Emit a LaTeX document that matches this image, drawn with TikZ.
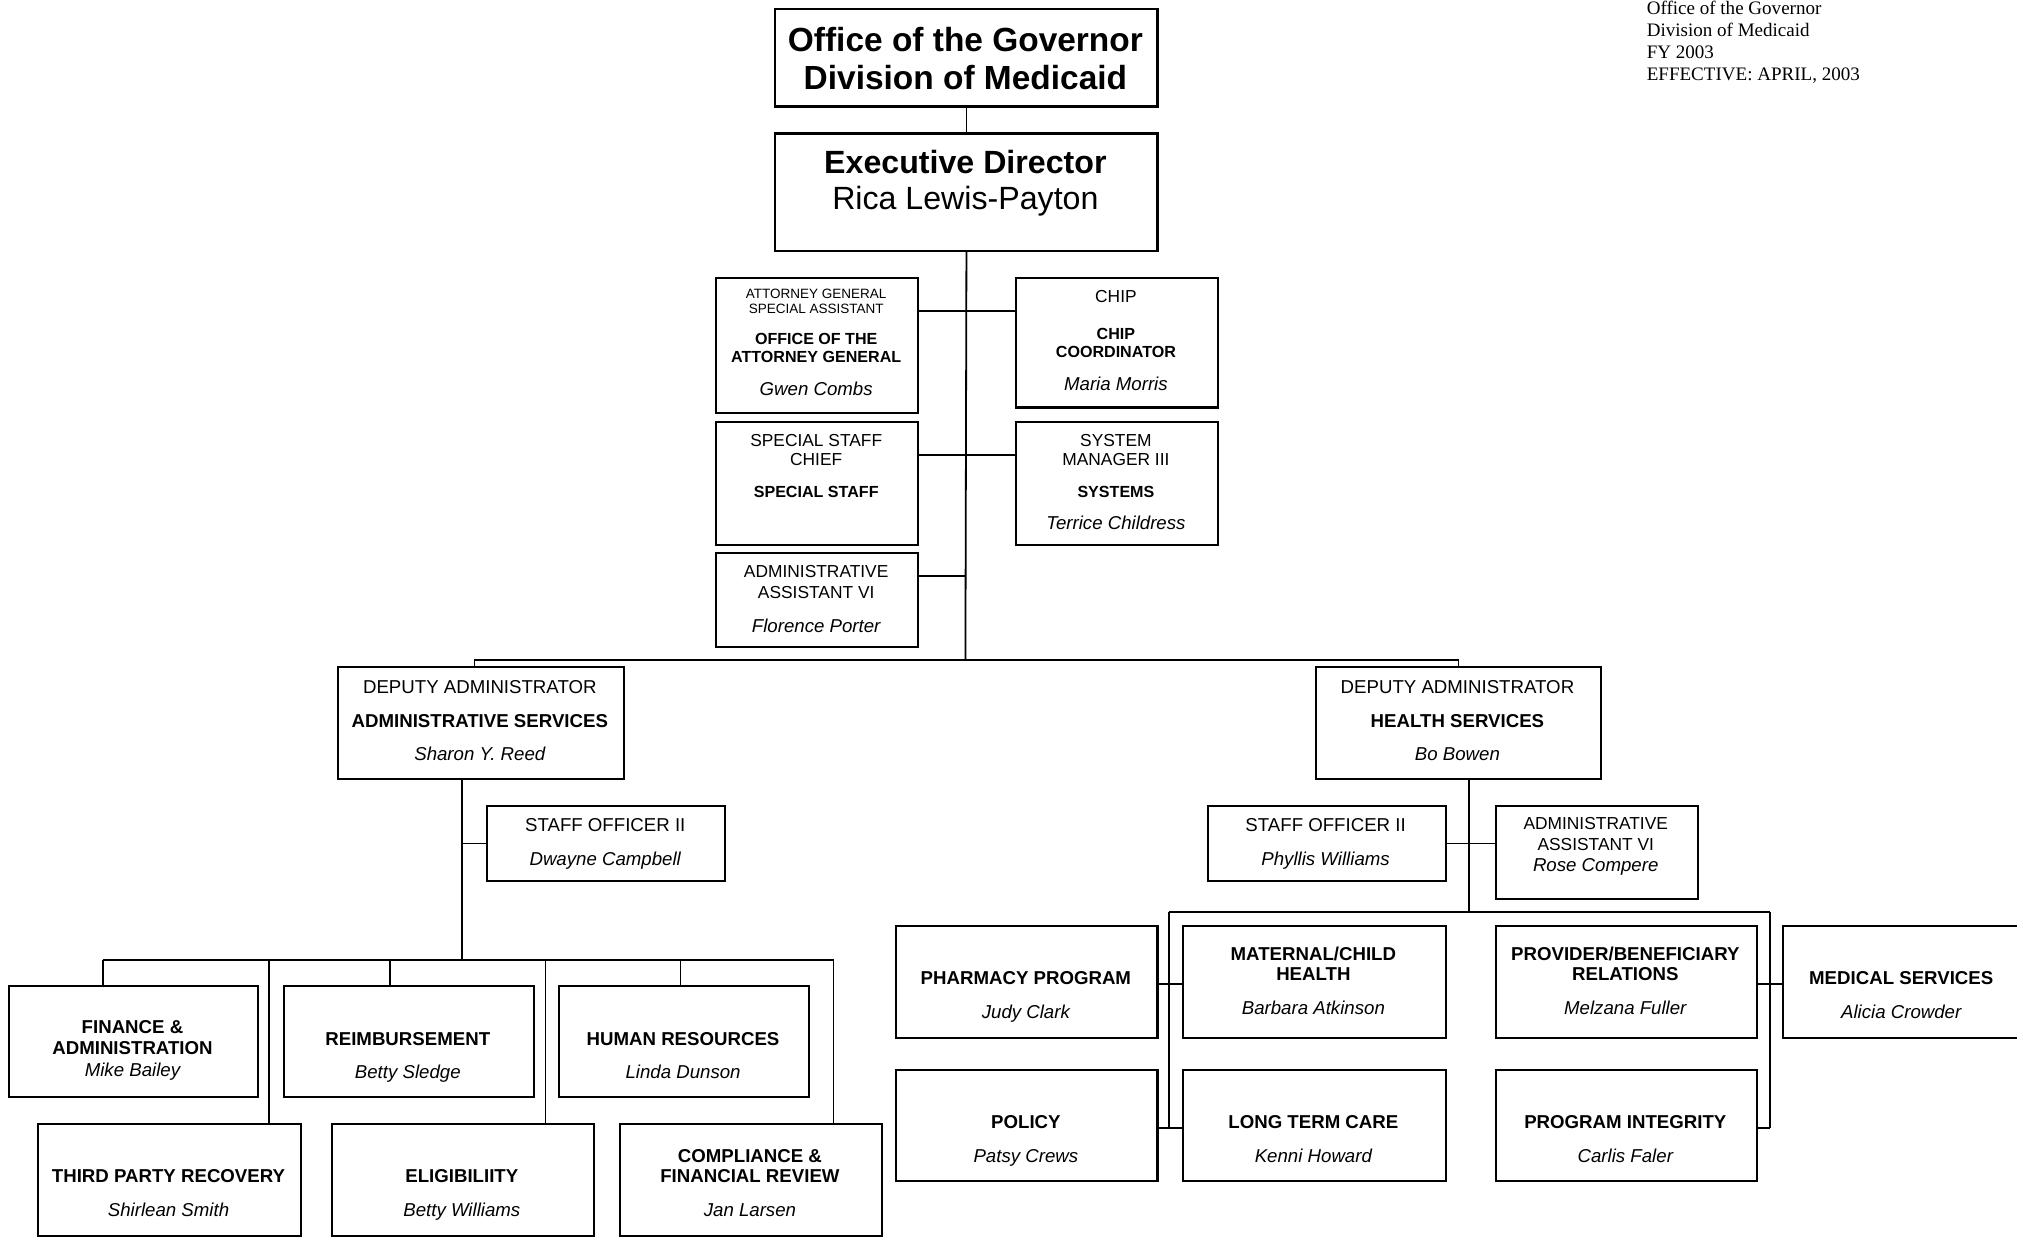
\documentclass[tikz,border=0pt]{standalone}
\usepackage{fontspec}
\setmainfont{Liberation Sans}
\newfontfamily\notefont{Liberation Serif}
\begin{document}
\begin{tikzpicture}[x=1pt,y=-1pt,
  box/.style={draw, line width=1.6pt, anchor=north west, inner sep=0pt, fill=white},
  conn/.style={line width=1.4pt},
  t/.style={inner sep=0pt, text height=11pt, text depth=0pt, font=\fontsize{14.5}{17}\selectfont},
  tb/.style={t, font=\fontsize{14.5}{17}\selectfont\bfseries},
  ti/.style={t, font=\fontsize{14.5}{17}\selectfont\itshape},
  ts/.style={t, text height=10.3pt, font=\fontsize{13.5}{16}\selectfont},
  tsb/.style={t, text height=9.5pt, font=\fontsize{12.5}{15}\selectfont\bfseries},
  tx/.style={t, text height=8pt, font=\fontsize{10.5}{12}\selectfont},
  big/.style={t, text height=19.8pt, font=\fontsize{26}{30}\selectfont\bfseries},
  bigb/.style={t, text height=19pt, font=\fontsize{25}{29}\selectfont\bfseries},
  bigr/.style={t, text height=19pt, font=\fontsize{25}{29}\selectfont},
  note/.style={inner sep=0pt, anchor=west, text height=11pt, text depth=0pt, font=\fontsize{14.8}{17}\selectfont\notefont}]
\path[use as bounding box, clip] (0,0) rectangle (1568,965);
\fill[white] (0,0) rectangle (1568,965);

% ---------- boxes ----------
\node[box, minimum width=297, minimum height=76] (gov) at (602,6) {};
\node[box, minimum width=297, minimum height=91] (exec) at (602,103) {};
\node[box, minimum width=157, minimum height=105] (ag) at (556,215) {};
\node[box, minimum width=157, minimum height=101] (chip) at (789,215) {};
\node[box, minimum width=157, minimum height=96] (ss) at (556,327) {};
\node[box, minimum width=157, minimum height=96] (sys) at (789,327) {};
\node[box, minimum width=157, minimum height=73] (aa) at (556,429) {};
\node[box, minimum width=222, minimum height=87] (da1) at (262,518) {};
\node[box, minimum width=222, minimum height=87] (da2) at (1022,518) {};
\node[box, minimum width=185, minimum height=58] (so1) at (378,626) {};
\node[box, minimum width=185, minimum height=58] (so2) at (938,626) {};
\node[box, minimum width=157, minimum height=72] (aa2) at (1162,626) {};
\node[box, minimum width=194, minimum height=86] (fin) at (6,766) {};
\node[box, minimum width=194, minimum height=86] (reimb) at (220,766) {};
\node[box, minimum width=194, minimum height=86] (hr) at (434,766) {};
\node[box, minimum width=204, minimum height=87] (tpr) at (29,873) {};
\node[box, minimum width=204, minimum height=87] (elig) at (257,873) {};
\node[box, minimum width=204, minimum height=87] (comp) at (481,873) {};
\node[box, minimum width=203, minimum height=87] (pharm) at (696,719) {};
\node[box, minimum width=204, minimum height=87] (mat) at (919,719) {};
\node[box, minimum width=203, minimum height=87] (prov) at (1162,719) {};
\node[box, minimum width=190, minimum height=87] (med) at (1385,719) {};
\node[box, minimum width=203, minimum height=86] (policy) at (696,831) {};
\node[box, minimum width=204, minimum height=86] (ltc) at (919,831) {};
\node[box, minimum width=203, minimum height=86] (pi) at (1162,831) {};

% ---------- connectors: top ----------
\coordinate (tb) at (750.5,513);
\draw[conn] (gov) -- (exec);
\draw[conn] (exec.south) -- (tb);
\draw[conn] (ag.east |- 0,242) -- (chip.west |- 0,242);
\draw[conn] (ss.east |- 0,354) -- (sys.west |- 0,354);
\draw[conn] (aa.east |- 0,448) -- (exec.south |- 0,448);
\draw[conn] ([xshift=-5pt]da1.north) -- ++(0,-5) -| (da2.north);

% ---------- connectors: left ----------
\coordinate (lb) at (359,746);
\coordinate (dfin) at (80,746);
\coordinate (dreimb) at (303,746);
\coordinate (dhr) at (529,746);
\coordinate (dtpr) at (209,746);
\coordinate (delig) at (424,746);
\coordinate (dcomp) at (648,746);
\draw[conn] (da1.south -| lb) -- (lb);
\draw[conn] (so1.west -| lb) -- (so1.west);
\draw[conn] (dfin) -- (dcomp);
\draw[conn] (dfin) -- (dfin |- fin.north);
\draw[conn] (dreimb) -- (dreimb |- reimb.north);
\draw[conn] (dhr) -- (dhr |- hr.north);
\draw[conn] (dtpr) -- (dtpr |- tpr.north);
\draw[conn] (delig) -- (delig |- elig.north);
\draw[conn] (dcomp) -- (dcomp |- comp.north);

% ---------- connectors: right ----------
\coordinate (rb) at (1142,709);
\coordinate (rbl) at (909,709);
\coordinate (rbr) at (1376,709);
\draw[conn] (da2.south -| rb) -- (rb);
\draw[conn] (so2.east) -- (so2.east -| aa2.west);
\draw[conn] (rbl) -- (rbr);
\draw[conn] (rbl) -- (rbl |- 0,877);
\draw[conn] (rbr) -- (rbr |- 0,877);
\draw[conn] (pharm.east |- 0,765) -- (mat.west |- 0,765);
\draw[conn] (policy.east |- 0,877) -- (ltc.west |- 0,877);
\draw[conn] (prov.east |- 0,765) -- (med.west |- 0,765);
\draw[conn] (pi.east |- 0,877) -- (rbr |- 0,877);

% ---------- texts ----------
\node[big] (gov-1) at (750.5,30) {Office of the Governor};
\node[big] (gov-2) at (750.5,60) {Division of Medicaid};
\node[bigb] (exec-1) at (750.5,125) {Executive Director};
\node[bigr] (exec-2) at (750.5,153) {Rica Lewis-Payton};

\node[tx] (ag-1) at (634.5,228) {ATTORNEY GENERAL};
\node[tx] (ag-2) at (634.5,240) {SPECIAL ASSISTANT};
\node[tsb] (ag-3) at (634.5,263) {OFFICE OF THE};
\node[tsb] (ag-4) at (634.5,277) {ATTORNEY GENERAL};
\node[ti] (ag-5) at (634.5,302) {Gwen Combs};

\node[ts] (chip-1) at (867.5,230) {CHIP};
\node[tsb] (chip-2) at (867.5,259) {CHIP};
\node[tsb] (chip-3) at (867.5,273) {COORDINATOR};
\node[ti] (chip-4) at (867.5,298) {Maria Morris};

\node[ts] (ss-1) at (634.5,342) {SPECIAL STAFF};
\node[ts] (ss-2) at (634.5,357) {CHIEF};
\node[tsb] (ss-3) at (634.5,382) {SPECIAL STAFF};

\node[ts] (sys-1) at (867.5,342) {SYSTEM};
\node[ts] (sys-2) at (867.5,357) {MANAGER III};
\node[tsb] (sys-3) at (867.5,382) {SYSTEMS};
\node[ti] (sys-4) at (867.5,406) {Terrice Childress};

\node[ts] (aa-1) at (634.5,444) {ADMINISTRATIVE};
\node[ts] (aa-2) at (634.5,460) {ASSISTANT VI};
\node[ti] (aa-3) at (634.5,486) {Florence Porter};

\node[t] (da1-1) at (373,534) {DEPUTY ADMINISTRATOR};
\node[tb] (da1-2) at (373,560) {ADMINISTRATIVE SERVICES};
\node[ti] (da1-3) at (373,586) {Sharon Y. Reed};

\node[t] (da2-1) at (1133,534) {DEPUTY ADMINISTRATOR};
\node[tb] (da2-2) at (1133,560) {HEALTH SERVICES};
\node[ti] (da2-3) at (1133,586) {Bo Bowen};

\node[t] (so1-1) at (470.5,641) {STAFF OFFICER II};
\node[ti] (so1-2) at (470.5,667) {Dwayne Campbell};
\node[t] (so2-1) at (1030.5,641) {STAFF OFFICER II};
\node[ti] (so2-2) at (1030.5,667) {Phyllis Williams};

\node[ts] (aa2-1) at (1240.5,640) {ADMINISTRATIVE};
\node[ts] (aa2-2) at (1240.5,656) {ASSISTANT VI};
\node[ti] (aa2-3) at (1240.5,672) {Rose Compere};

\node[tb] (fin-1) at (103,798) {FINANCE \&};
\node[tb] (fin-2) at (103,814) {ADMINISTRATION};
\node[ti] (fin-3) at (103,831) {Mike Bailey};
\node[tb] (reimb-1) at (317,807) {REIMBURSEMENT};
\node[ti] (reimb-2) at (317,833) {Betty Sledge};
\node[tb] (hr-1) at (531,807) {HUMAN RESOURCES};
\node[ti] (hr-2) at (531,833) {Linda Dunson};

\node[tb] (tpr-1) at (131,914) {THIRD PARTY RECOVERY};
\node[ti] (tpr-2) at (131,940) {Shirlean Smith};
\node[tb] (elig-1) at (359,914) {ELIGIBILIITY};
\node[ti] (elig-2) at (359,940) {Betty Williams};
\node[tb] (comp-1) at (583,898) {COMPLIANCE \&};
\node[tb] (comp-2) at (583,914) {FINANCIAL REVIEW};
\node[ti] (comp-3) at (583,940) {Jan Larsen};

\node[tb] (pharm-1) at (797.5,760) {PHARMACY PROGRAM};
\node[ti] (pharm-2) at (797.5,786) {Judy Clark};
\node[tb] (mat-1) at (1021,741) {MATERNAL/CHILD};
\node[tb] (mat-2) at (1021,757) {HEALTH};
\node[ti] (mat-3) at (1021,783) {Barbara Atkinson};
\node[tb] (prov-1) at (1263.5,741) {PROVIDER/BENEFICIARY};
\node[tb] (prov-2) at (1263.5,757) {RELATIONS};
\node[ti] (prov-3) at (1263.5,783) {Melzana Fuller};
\node[tb] (med-1) at (1478,760) {MEDICAL SERVICES};
\node[ti] (med-2) at (1478,786) {Alicia Crowder};

\node[tb] (policy-1) at (797.5,872) {POLICY};
\node[ti] (policy-2) at (797.5,898) {Patsy Crews};
\node[tb] (ltc-1) at (1021,872) {LONG TERM CARE};
\node[ti] (ltc-2) at (1021,898) {Kenni Howard};
\node[tb] (pi-1) at (1263.5,872) {PROGRAM INTEGRITY};
\node[ti] (pi-2) at (1263.5,898) {Carlis Faler};

% ---------- note ----------
\node[note] (note-1) at (1280,6) {Office of the Governor};
\node[note] (note-2) at (1280,23) {Division of Medicaid};
\node[note] (note-3) at (1280,40) {FY 2003};
\node[note] (note-4) at (1280,57) {EFFECTIVE: APRIL, 2003};
\end{tikzpicture}
\end{document}
